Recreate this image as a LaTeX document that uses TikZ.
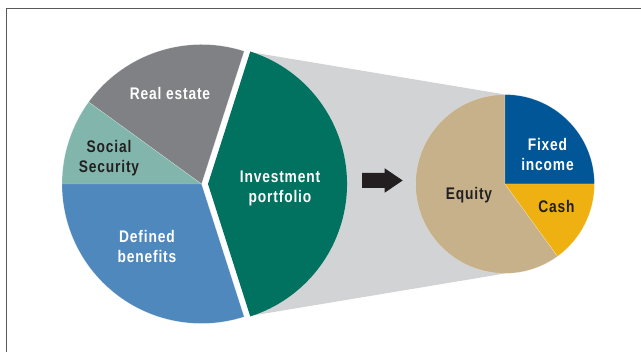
\documentclass[tikz,border=0pt]{standalone}
\usepackage{fontspec}
\setmainfont{Liberation Sans}[FakeStretch=0.82]
\definecolor{cRealEstate}{HTML}{808184}
\definecolor{cSocial}{HTML}{82B6AD}
\definecolor{cDefined}{HTML}{4F88BD}
\definecolor{cGreen}{HTML}{00725F}
\definecolor{cCone}{HTML}{D1D3D4}
\definecolor{cEquity}{HTML}{C6B18B}
\definecolor{cFixed}{HTML}{005696}
\definecolor{cCash}{HTML}{EFB111}
\definecolor{cInk}{HTML}{231F20}
\definecolor{cFrame}{HTML}{58595B}
\tikzset{
  lab/.style={font=\fontsize{16.8}{20}\selectfont\bfseries\addfontfeature{LetterSpace=5},align=center,inner sep=0pt},
  lightlab/.style={lab,text=white},
  darklab/.style={lab,text=cInk},
  seam/.style={draw=white,draw opacity=.45,line width=.3pt}
}
\begin{document}
\begin{tikzpicture}[x=1pt,y=1pt]
\useasboundingbox (0,0) rectangle (641,352);
\fill[white] (0,0) rectangle (641,352);
% frame
\draw[cFrame,line width=1pt] (6.5,0) -- (6.5,343) -- (641,343);
% cone
\coordinate (cl) at (201.5,168);
\coordinate (cg) at (208,168);
\coordinate (cr) at (505,168);
\fill[cCone] (250,300) -- (505,257.5) -- (505,78.5) -- (250,36) -- cycle;
% left pie
\fill[cRealEstate,seam] (cl) -- ++(144:139.5) arc[start angle=144,end angle=72.2,radius=139.5] -- cycle;
\fill[cSocial,seam] (cl) -- ++(180:139.5) arc[start angle=180,end angle=144,radius=139.5] -- cycle;
\fill[cDefined,seam] (cl) -- ++(-72.2:139.5) arc[start angle=-72.2,end angle=-180,radius=139.5] -- cycle;
\fill[cGreen] (cg) -- ++(72.3:139) arc[start angle=72.3,end angle=-72.3,radius=139] -- cycle;
% right pie
\fill[cEquity,seam] (cr) -- ++(90:89.4) arc[start angle=90,end angle=306,radius=89.4] -- cycle;
\fill[cFixed,seam] (cr) -- ++(90:89.4) arc[start angle=90,end angle=0,radius=89.4] -- cycle;
\fill[cCash,seam] (cr) -- ++(0:89.4) arc[start angle=0,end angle=-54,radius=89.4] -- cycle;
% arrow
\fill[cInk] (362,179) -- (384.7,179) -- (384.7,183.7) -- (402.7,171.5) -- (384.7,159.3) -- (384.7,164) -- (362,164) -- cycle;
% labels
\node[lightlab] (re) at (170,258) {Real estate};
\node[darklab] (ss) at (109,194) {Social\\Security};
\node[lightlab] (db) at (147,105) {Defined\\benefits};
\node[lightlab] (ip) at (280,164) {Investment\\portfolio};
\node[darklab] (eq) at (469,157) {Equity};
\node[lightlab] (fi) at (547.5,197) {Fixed\\income};
\node[darklab] (ca) at (556.5,145) {Cash};
\end{tikzpicture}
\end{document}
